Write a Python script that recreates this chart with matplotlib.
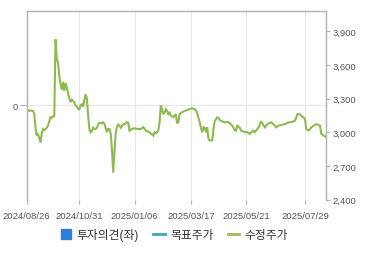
import matplotlib
matplotlib.use("Agg")
import matplotlib.pyplot as plt
from matplotlib.lines import Line2D
import pandas as pd

plt.rcParams['font.family'] = ['Liberation Sans', 'Noto Sans CJK KR', 'DejaVu Sans']

# Korean market holidays (non-trading weekdays) in the period
holidays = ['2024-09-16', '2024-09-17', '2024-09-18', '2024-10-01', '2024-10-03',
            '2024-10-09', '2024-12-25', '2024-12-31', '2025-01-01', '2025-01-27',
            '2025-01-28', '2025-01-29', '2025-01-30', '2025-03-03', '2025-05-01',
            '2025-05-05', '2025-05-06', '2025-06-03', '2025-06-06', '2025-08-15']

price_dates = [
    '2024-08-26', '2024-08-28', '2024-08-29', '2024-09-02', '2024-09-03', '2024-09-04',
    '2024-09-05', '2024-09-06', '2024-09-09', '2024-09-10', '2024-09-11', '2024-09-12',
    '2024-09-13', '2024-09-19', '2024-09-20', '2024-09-23', '2024-09-24', '2024-09-25',
    '2024-09-26', '2024-09-27', '2024-09-30', '2024-10-02', '2024-10-04', '2024-10-07',
    '2024-10-08', '2024-10-10', '2024-10-11', '2024-10-14', '2024-10-15', '2024-10-16',
    '2024-10-17', '2024-10-18', '2024-10-21', '2024-10-22', '2024-10-23', '2024-10-24',
    '2024-10-25', '2024-10-28', '2024-10-29', '2024-10-30', '2024-10-31', '2024-11-01',
    '2024-11-04', '2024-11-05', '2024-11-06', '2024-11-07', '2024-11-08', '2024-11-11',
    '2024-11-12', '2024-11-13', '2024-11-14', '2024-11-15', '2024-11-18', '2024-11-19',
    '2024-11-20', '2024-11-21', '2024-11-22', '2024-11-26', '2024-11-27', '2024-11-28',
    '2024-12-02', '2024-12-03', '2024-12-04', '2024-12-05', '2024-12-06', '2024-12-09',
    '2024-12-10', '2024-12-11', '2024-12-12', '2024-12-13', '2024-12-16', '2024-12-17',
    '2024-12-19', '2024-12-20', '2024-12-24', '2024-12-26', '2024-12-27', '2025-01-02',
    '2025-01-06', '2025-01-08', '2025-01-13', '2025-01-15', '2025-01-17', '2025-01-22',
    '2025-01-31', '2025-02-03', '2025-02-04', '2025-02-06', '2025-02-07', '2025-02-10',
    '2025-02-11', '2025-02-12', '2025-02-13', '2025-02-14', '2025-02-17', '2025-02-18',
    '2025-02-19', '2025-02-20', '2025-02-24', '2025-02-26', '2025-02-27', '2025-02-28',
    '2025-03-04', '2025-03-06', '2025-03-10', '2025-03-12', '2025-03-14', '2025-03-18',
    '2025-03-20', '2025-03-21', '2025-03-24', '2025-03-25', '2025-03-26', '2025-03-27',
    '2025-03-28', '2025-03-31', '2025-04-01', '2025-04-02', '2025-04-03', '2025-04-04',
    '2025-04-07', '2025-04-09', '2025-04-10', '2025-04-11', '2025-04-15', '2025-04-16',
    '2025-04-17', '2025-04-21', '2025-04-23', '2025-04-28', '2025-04-30', '2025-05-02',
    '2025-05-08', '2025-05-09', '2025-05-12', '2025-05-14', '2025-05-15', '2025-05-19',
    '2025-05-22', '2025-05-26', '2025-05-27', '2025-05-29', '2025-05-30', '2025-06-05',
    '2025-06-10', '2025-06-11', '2025-06-13', '2025-06-17', '2025-06-20', '2025-06-23',
    '2025-06-25', '2025-06-26', '2025-06-30', '2025-07-02', '2025-07-07', '2025-07-10',
    '2025-07-14', '2025-07-17', '2025-07-21', '2025-07-23', '2025-07-24', '2025-07-28',
    '2025-07-29', '2025-07-30', '2025-08-01', '2025-08-05', '2025-08-07', '2025-08-11',
    '2025-08-14', '2025-08-18', '2025-08-20', '2025-08-22']

price_values = [
    3205, 3190, 3195, 3190, 3170, 3040,
    2970, 2985, 2950, 2910, 2990, 3030,
    3020, 3030, 3040, 3060, 3100, 3135,
    3130, 3140, 3145, 3830, 3660, 3620,
    3500, 3430, 3380, 3450, 3370, 3440,
    3400, 3350, 3300, 3270, 3290, 3280,
    3265, 3240, 3230, 3210, 3205, 3240,
    3250, 3230, 3290, 3340, 3300, 3150,
    3030, 3000, 3010, 3040, 3030, 3030,
    3040, 3070, 3085, 3080, 3090, 3075,
    3000, 3030, 3030, 2990, 2850, 2640,
    2830, 2990, 3050, 3070, 3060, 3040,
    3073, 3070, 3090, 3085, 3015, 3030,
    3035, 3030, 3030, 3046, 3015, 3000,
    2970, 3000, 2990, 3015, 3090, 3241,
    3200, 3162, 3180, 3206, 3190, 3162,
    3175, 3150, 3135, 3162, 3080, 3090,
    3162, 3180, 3190, 3200, 3206, 3215,
    3205, 3195, 3170, 3130, 3090, 3040,
    3000, 3045, 3040, 3000, 3045, 2940,
    2926, 2930, 3030, 3100, 3133, 3130,
    3110, 3097, 3090, 3090, 3070, 3059,
    3020, 3015, 3059, 3040, 3015, 3005,
    3000, 2985, 3000, 3015, 3000, 3044,
    3097, 3080, 3044, 3073, 3089, 3080,
    3059, 3044, 3060, 3065, 3073, 3089,
    3090, 3103, 3162, 3160, 3147, 3130,
    3118, 3030, 3015, 3044, 3060, 3073,
    3059, 2985, 2970, 2956]

tick_dates = ['2024-08-26', '2024-10-31', '2025-01-06', '2025-03-17', '2025-05-21', '2025-07-29']
tick_labels = ['2024/08/26', '2024/10/31', '2025/01/06', '2025/03/17', '2025/05/21', '2025/07/29']
right_ticks = [2400, 2700, 3000, 3300, 3600, 3900]
right_tick_labels = ['2,400', '2,700', '3,000', '3,300', '3,600', '3,900']
legend_labels = ['투자의견(좌)', '목표주가', '수정주가']

# trading-day calendar -> x positions
cal = pd.bdate_range('2024-08-26', '2025-08-22')
cal = cal[~cal.isin(pd.to_datetime(holidays))]
x = cal.get_indexer(pd.to_datetime(price_dates))
xt = cal.get_indexer(pd.to_datetime(tick_dates))

fig = plt.figure(figsize=(3.70, 2.55), dpi=100)
ax = fig.add_axes([26.7 / 370, 1 - 200.5 / 255, (326.3 - 26.7) / 370, (200.5 - 12.3) / 255])
ax2 = ax.twinx()

spine_c = '#b4b4b4'
grid_c = '#e6e6e6'
text_c = '#555555'
green = '#8dbb4e'

ax.set_xlim(0, len(cal) - 1)
ax.set_ylim(-1, 1)
ax.set_yticks([0])
ax.set_yticklabels(['0'])
ax.set_xticks(xt)
ax.set_xticklabels(tick_labels)
ax.grid(True, color=grid_c, lw=0.8)
ax.set_axisbelow(True)

ax2.plot(x, price_values, color=green, lw=1.5, solid_joinstyle='miter')
ax2.set_ylim(2400, 4080)
ax2.set_yticks(right_ticks)
ax2.set_yticklabels(right_tick_labels)

for a in (ax, ax2):
    for side in ('left', 'right', 'top'):
        a.spines[side].set_color(spine_c)
        a.spines[side].set_linewidth(0.9)
    a.spines['bottom'].set_visible(False)
    a.tick_params(colors=spine_c, labelcolor=text_c, labelsize=6.8, width=0.8)
ax.tick_params(axis='x', length=3, pad=5)
ax.tick_params(axis='y', length=5, pad=1)
ax2.tick_params(axis='y', length=3, pad=1.5)

handles = [
    Line2D([], [], marker='s', linestyle='none', markersize=7, color='#2f7ed8'),
    Line2D([], [], color='#3aa9b5', lw=2),
    Line2D([], [], color='#9cba5f', lw=2),
]
fig.legend(handles, legend_labels, loc='center', bbox_to_anchor=(174 / 370, 1 - 236 / 255),
           ncol=3, frameon=False, fontsize=8.5, handlelength=1.0, handletextpad=0.4,
           columnspacing=1.2, labelcolor='#333333')

fig.savefig('out.png', dpi=100)
